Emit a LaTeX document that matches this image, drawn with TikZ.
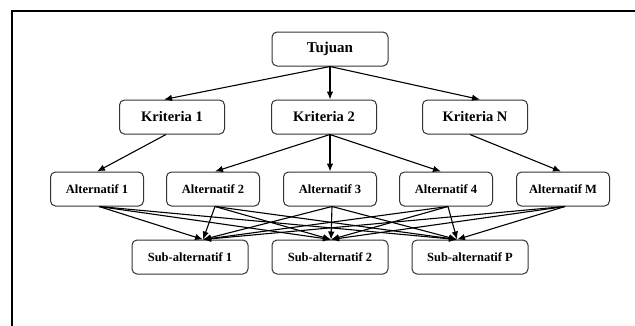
\documentclass[tikz,border=0pt]{standalone}
\usepackage{fontspec}
\setmainfont{Liberation Serif}
\usetikzlibrary{arrows.meta}
\tikzset{
  box/.style={draw=black!80, line width=1pt, rounded corners=5pt, fill=white, inner sep=0pt, align=center, font=\bfseries},
  topbox/.style={box, minimum width=116pt, minimum height=34pt, font=\fontsize{15}{17}\selectfont\bfseries},
  kbox/.style={box, minimum width=105pt, minimum height=34pt, font=\fontsize{14.5}{17}\selectfont\bfseries},
  abox/.style={box, minimum width=93pt, minimum height=34pt, font=\fontsize{12.5}{15}\selectfont\bfseries},
  sbox/.style={box, minimum width=116pt, minimum height=34pt, font=\fontsize{12.5}{15}\selectfont\bfseries},
  arr/.style={draw=black, line width=1.1pt, -{Latex[length=8pt,width=6.5pt]}},
  frame/.style={draw=black, line width=2pt}
}
\begin{document}
\begin{tikzpicture}[x=1pt,y=-1pt]
\useasboundingbox (0,0) rectangle (635,325);
\draw[frame] (640,11) -- (12,11) -- (12,330);

\node[topbox] (t) at (330,49) {Tujuan};

\node[kbox] (k1) at (172,117) {Kriteria 1};
\node[kbox] (k2) at (324,117) {Kriteria 2};
\node[kbox] (kn) at (475,117) {Kriteria N};

\node[abox] (a1) at (97,189) {Alternatif 1};
\node[abox] (a2) at (213,189) {Alternatif 2};
\node[abox] (a3) at (330,189) {Alternatif 3};
\node[abox] (a4) at (446,189) {Alternatif 4};
\node[abox] (am) at (563,189) {Alternatif M};

\node[sbox] (s1) at (190,257) {Sub-alternatif 1};
\node[sbox] (s2) at (330,257) {Sub-alternatif 2};
\node[sbox] (sp) at (470,257) {Sub-alternatif P};

% Tujuan -> Kriteria
\draw[arr] (t.south) -- ([xshift=-8]k1.north);
\draw[arr] (t.south) -- (k2.north -| t.south);
\draw[arr] (t.south) -- ([xshift=5]kn.north);

% Kriteria -> Alternatif
\draw[arr] ([xshift=-6]k1.south) -- (a1.north);
\draw[arr] (k2.south -| t.south) -- ([xshift=2]a2.north);
\draw[arr] (k2.south -| t.south) -- (a3.north -| t.south);
\draw[arr] (k2.south -| t.south) -- ([xshift=-5]a4.north);
\draw[arr] ([xshift=-5]kn.south) -- ([xshift=-2]am.north);

% Alternatif -> Sub-alternatif
\foreach \a in {a1,a2,a3,a4,am}{
  \draw[arr] ([xshift=2]\a.south) -- ([xshift=13]s1.north);
  \draw[arr] ([xshift=2]\a.south) -- ([xshift=1]s2.north);
  \draw[arr] ([xshift=2]\a.south) -- ([xshift=-13]sp.north);
}
\end{tikzpicture}
\end{document}
